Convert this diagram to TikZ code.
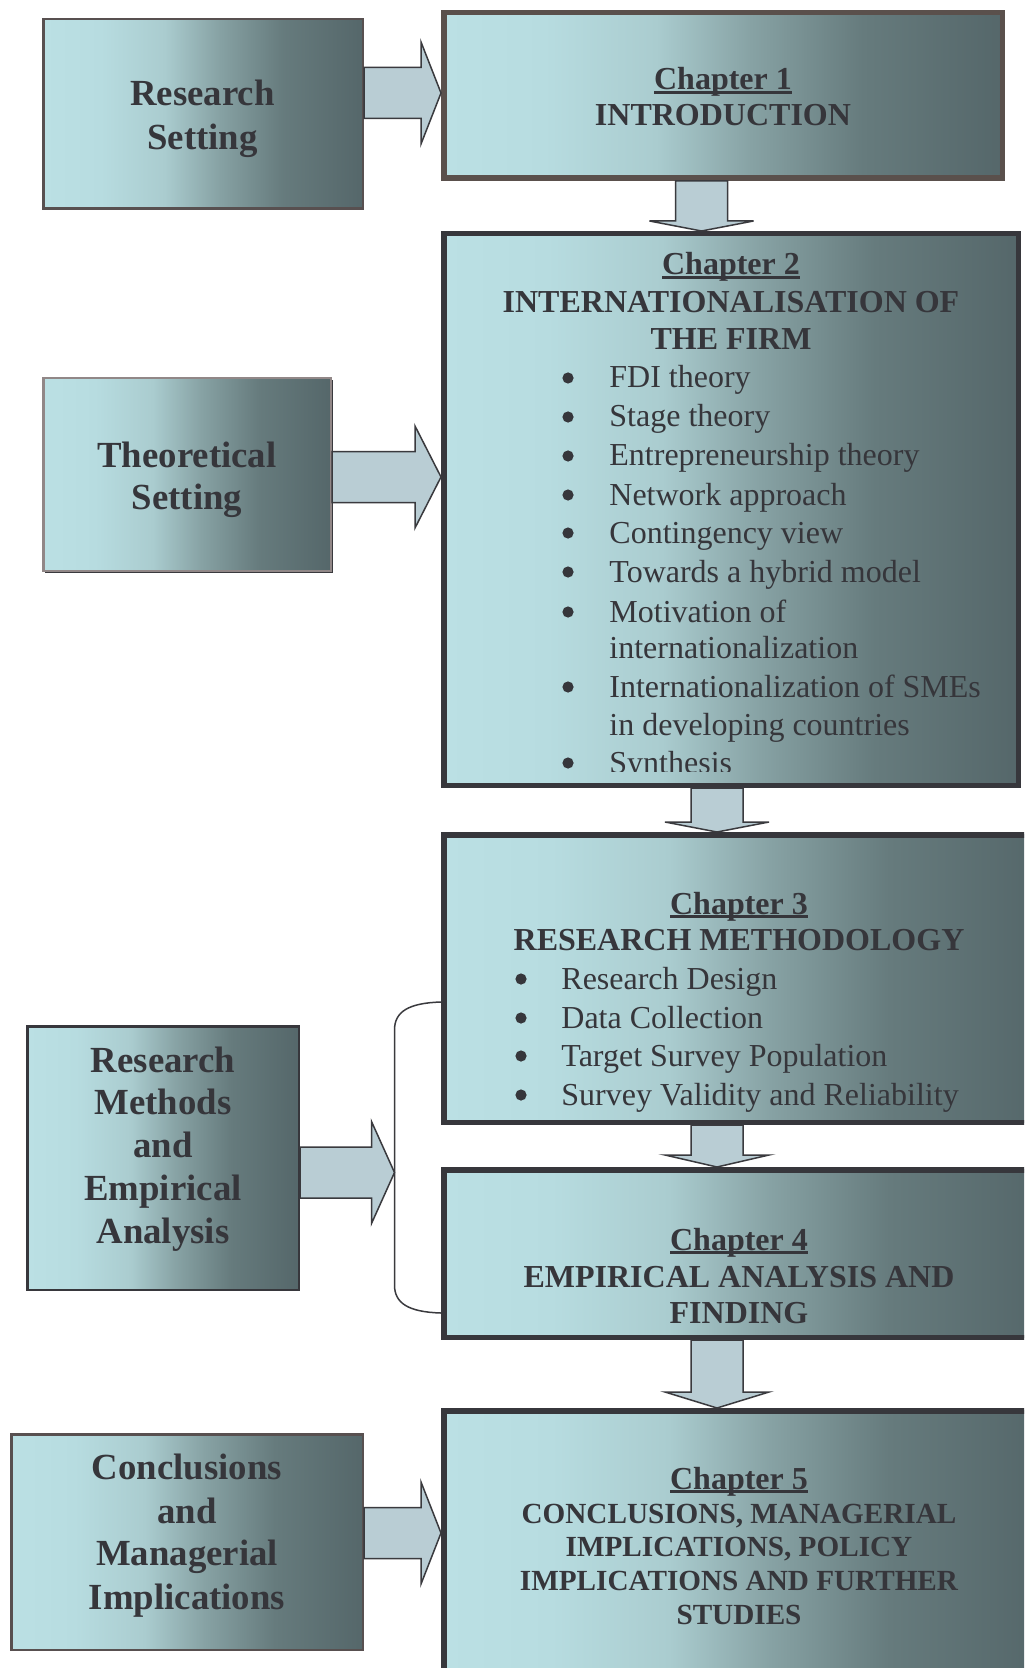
\documentclass[tikz,border=0pt]{standalone}
\usepackage{fontspec}
\setmainfont{Liberation Serif}
\usetikzlibrary{calc,fit}

\definecolor{ink}{RGB}{54,54,59}
\definecolor{gA}{RGB}{187,224,228}
\definecolor{gB}{RGB}{183,220,224}
\definecolor{gC}{RGB}{170,204,207}
\definecolor{gD}{RGB}{135,162,164}
\definecolor{gE}{RGB}{102,123,125}
\definecolor{gF}{RGB}{85,103,106}
\definecolor{arrowfill}{RGB}{185,205,212}
\definecolor{arrowline}{RGB}{58,58,62}
\definecolor{chborder}{RGB}{55,55,60}
\definecolor{introborder}{RGB}{90,80,76}
\definecolor{sideborder}{RGB}{88,80,80}
\definecolor{tsborder}{RGB}{145,135,135}

% light-to-dark horizontal fill of every box (25bp = left edge, 75bp = right edge)
\pgfdeclarehorizontalshading{boxgrad}{100bp}{color(0bp)=(gA); color(25bp)=(gA); color(34bp)=(gB); color(44bp)=(gC); color(52.5bp)=(gD); color(62.5bp)=(gE); color(75bp)=(gF); color(100bp)=(gF)}

\newcommand\sidefont{\fontsize{18.4}{22}\selectfont\bfseries}
\newcommand\headfont{\fontsize{16}{19}\selectfont\bfseries}
\newcommand\longhead{\fontsize{14.6}{17}\selectfont\bfseries}
\newcommand\itemfont{\fontsize{16}{19}\selectfont}
\newcommand\chapul[1]{\setbox0=\hbox{#1}\rlap{\rule[-1.9pt]{\wd0}{1.2pt}}\box0}

% block arrow pointing right: start point, tip point, y centre (px), head length (px)
\newcommand\hblock[4]{%
  \draw[barrow] let \p1=#1, \p2=#2, \p3=(0,#3) in
    (\x1,\y3+12.75pt) -- (\x2-#4*0.5pt,\y3+12.75pt) -- (\x2-#4*0.5pt,\y3+25.5pt)
    -- (\x2,\y3) -- (\x2-#4*0.5pt,\y3-25.5pt) -- (\x2-#4*0.5pt,\y3-12.75pt)
    -- (\x1,\y3-12.75pt) -- cycle;}
% block arrow pointing down: source node, target node, x centre (px), head length (px)
\newcommand\vblock[4]{%
  \draw[barrow] let \p1=(#1.south), \p2=(#2.north), \p3=(#3,0) in
    (\x3-13pt,\y1) -- (\x3-13pt,\y2+#4*0.5pt) -- (\x3-26pt,\y2+#4*0.5pt)
    -- (\x3,\y2) -- (\x3+26pt,\y2+#4*0.5pt) -- (\x3+13pt,\y2+#4*0.5pt)
    -- (\x3+13pt,\y1) -- cycle;}

\tikzset{
  barrow/.style={fill=arrowfill, draw=arrowline, line width=0.75pt, line join=miter},
  chbox/.style={draw=chborder, line width=2.75pt, shading=boxgrad, inner sep=0pt},
  sidebox/.style={draw=sideborder, line width=1.25pt, shading=boxgrad, inner sep=0pt},
  txt/.style={anchor=base, inner sep=0pt, text=ink},
  side/.style={txt, font=\sidefont},
  head/.style={txt, font=\headfont},
  lhead/.style={txt, font=\longhead},
  dot/.style={circle, fill=ink, inner sep=0pt, minimum size=5.6pt},
  item/.style={anchor=base west, inner sep=0pt, text=ink, font=\itemfont},
}

\begin{document}
\begin{tikzpicture}[x=0.5pt, y=-0.5pt]
\useasboundingbox (0,0) rectangle (1024,1668);
\fill[white] (0,0) rectangle (1024,1668);
\clip (0,0) rectangle (1024,1668);

% ---- left column ----
\node[sidebox, fit={(43.25,19.25) (362.75,208.75)}] (rs) {};
\fill[arrowline] (45,380) rectangle (333,573);
\node[sidebox, draw=tsborder, fit={(43.25,378.25) (330.75,570.75)}] (ts) {};
\node[sidebox, draw=chborder, fit={(27.25,1026.25) (298.75,1289.75)}] (rm) {};
\node[sidebox, fit={(11.25,1434.25) (362.75,1649.75)}] (cm) {};

% ---- chapter column ----
\node[chbox, draw=introborder, fit={(443.75,12.75) (1002.25,178.25)}] (ch1) {};
\node[chbox, fit={(443.75,233.75) (1018.25,785.25)}] (ch2) {};
\node[chbox, fit={(443.75,834.75) (1037.25,1122.25)}] (ch3) {};
\node[chbox, fit={(443.75,1169.75) (1037.25,1337.25)}] (ch4) {};
\node[chbox, fit={(443.75,1410.75) (1037.25,1697)}] (ch5) {};

% ---- left column labels ----
\node[side] (rs1) at (202.5,106) {Research};
\node[side] (rs2) at (202.5,150) {Setting};
\node[side] (ts1) at (187,467) {Theoretical};
\node[side] (ts2) at (187,509) {Setting};
\node[side] (rm1) at (163,1072) {Research};
\node[side] (rm2) at (163,1114) {Methods};
\node[side] (rm3) at (163,1157) {and};
\node[side] (rm4) at (163,1200) {Empirical};
\node[side] (rm5) at (163,1243) {Analysis};
\node[side] (cm1) at (187,1479) {Conclusions};
\node[side] (cm2) at (187,1523) {and};
\node[side] (cm3) at (187,1565) {Managerial};
\node[side] (cm4) at (187,1609) {Implications};

% ---- chapter 1 ----
\node[head] (c1a) at (723,90) {\chapul{Chapter 1}};
\node[head] (c1b) at (723,126) {INTRODUCTION};

% ---- chapter 2 ----
\node[head] (c2a) at (731,275) {\chapul{Chapter 2}};
\node[head] (c2b) at (731,313) {INTERNATIONALISATION OF};
\node[head] (c2c) at (731,350) {THE FIRM};
\begin{scope}
\clip (446,236) rectangle (1016,771);
\foreach \yy/\tt [count=\i] in {388/FDI theory, 427/Stage theory, 466/Entrepreneurship theory,
    505/Network approach, 543/Contingency view, 582/Towards a hybrid model,
    622/Motivation of, 697/Internationalization of SMEs, 773/Synthesis}{
  \node[dot] (c2d\i) at (568,\yy-10) {};
  \node[item] (c2i\i) at (609,\yy) {\tt};
}
\node[item] (c2i7b) at (609,658) {internationalization};
\node[item] (c2i8b) at (609,735) {in developing countries};
\end{scope}

% ---- chapter 3 ----
\node[head] (c3a) at (739,914) {\chapul{Chapter 3}};
\node[head] (c3b) at (739,950) {RESEARCH METHODOLOGY};
\foreach \yy/\tt [count=\i] in {989/Research Design, 1028/Data Collection,
    1066/Target Survey Population, 1105/Survey Validity and Reliability}{
  \node[dot] (c3d\i) at (521,\yy-10) {};
  \node[item] (c3i\i) at (561,\yy) {\tt};
}

% ---- chapter 4 ----
\node[head] (c4a) at (739,1250) {\chapul{Chapter 4}};
\node[head] (c4b) at (739,1287) {EMPIRICAL ANALYSIS AND};
\node[head] (c4c) at (739,1323) {FINDING};

% ---- chapter 5 ----
\node[head] (c5a) at (739,1489) {\chapul{Chapter 5}};
\node[lhead] (c5b) at (739,1523) {CONCLUSIONS, MANAGERIAL};
\node[lhead] (c5c) at (739,1556) {IMPLICATIONS, POLICY};
\node[lhead] (c5d) at (739,1590) {IMPLICATIONS AND FURTHER};
\node[lhead] (c5e) at (739,1624) {STUDIES};

% ---- brace grouping chapters 3 and 4 ----
\coordinate (brtop) at (441,1002);
\coordinate (brbot) at (441,1313);
\coordinate (brmid) at (394.5,1172.5);
\draw[arrowline, line width=0.75pt]
  (brtop) .. controls (408,1003) and (394.5,1012) .. (394.5,1030)
  -- (394.5,1285) .. controls (394.5,1303) and (408,1312) .. (brbot);

% ---- block arrows ----
\hblock{(rs.east)}{(ch1.west)}{93}{20}
\hblock{(ts.east)}{(ch2.west)}{477}{26}
\hblock{(rm.east)}{(brmid)}{1172.5}{23}
\hblock{(cm.east)}{(ch5.west)}{1533}{20}
\vblock{ch1}{ch2}{701.5}{10}
\vblock{ch2}{ch3}{717}{10}
\vblock{ch3}{ch4}{717}{12}
\vblock{ch4}{ch5}{717}{16}
\end{tikzpicture}
\end{document}
